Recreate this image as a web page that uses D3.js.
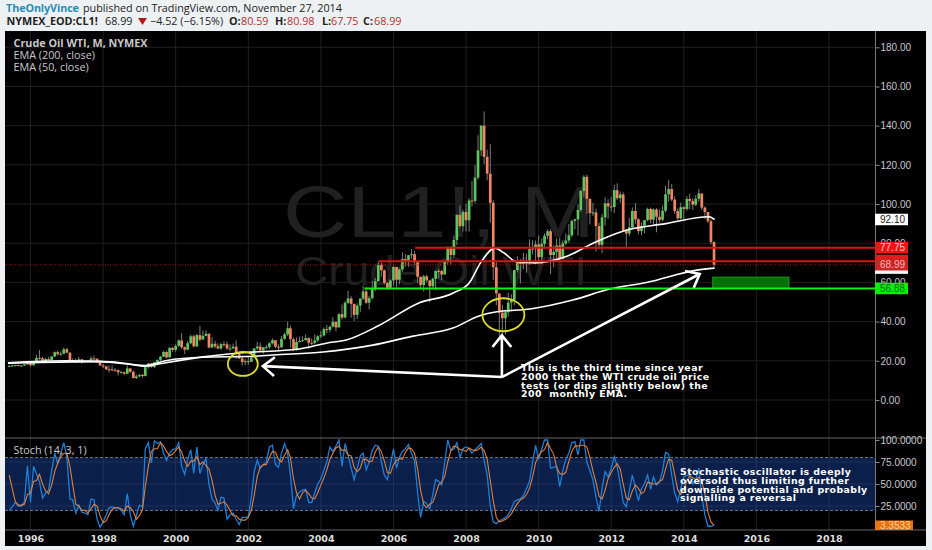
<!DOCTYPE html>
<html lang="en">
<head>
<meta charset="utf-8">
<title>Crude Oil WTI</title>
<script src="https://d3js.org/d3.v7.min.js"></script>
<style>
  html, body { margin: 0; padding: 0; background: #eef1f3; overflow: hidden; }
  svg { display: block; }
  text { font-family: "Open Sans", "DejaVu Sans", sans-serif; white-space: pre; }
</style>
</head>
<body>
<script>
// monthly bars, first one is June 1995
var firstBar = [1995, 5];
var barOpen = [
  17.2,17.3,17.6,17.8,17.5,17.6,18.2,
  19.55,17.7,19.5,21.5,21.2,19.8,20.9,20.4,22.2,24.4,23.4,23.6,
  25.9,24.15,20.3,20.4,19.75,20.8,19.8,20.1,19.6,21.2,21.1,19.2,
  17.6,17.2,15.7,15.6,15.4,15.2,14.2,14.2,13.4,16.1,14.4,11.2,
  12.05,12.75,12.3,16.75,18.66,16.84,19.3,20.5,22.1,24.5,21.75,26.6,
  25.6,27.6,30.4,26.9,25.7,29.0,32.5,27.4,33.1,30.8,32.7,33.8,
  26.8,28.7,27.4,26.3,28.5,28.4,26.3,26.3,27.2,23.4,21.2,19.4,
  19.8,19.5,21.7,26.3,27.3,25.3,26.9,27.0,28.9,30.5,27.2,26.9,
  31.2,33.5,36.6,31.0,25.8,29.6,30.2,30.5,31.6,29.2,29.1,30.4,
  32.5,33.0,36.2,35.8,37.4,39.9,37.05,43.8,42.1,49.6,51.8,49.1,
  43.45,48.2,51.75,55.4,49.7,51.97,56.5,60.6,68.9,66.2,59.8,57.3,
  61.0,67.9,61.4,66.6,71.9,71.3,73.9,74.4,70.3,62.9,58.7,63.1,
  61.05,58.1,61.8,65.9,65.8,64.0,70.7,78.2,74.0,81.7,94.5,88.7,
  96.0,91.75,101.8,101.6,113.5,127.4,140.0,124.1,115.5,100.6,67.8,54.4,
  44.6,41.7,44.8,49.7,51.1,66.3,69.9,69.45,69.96,70.6,77.0,77.3,
  79.4,72.9,79.7,83.8,86.15,73.97,75.6,78.85,71.9,79.97,81.4,84.1,
  91.4,92.2,97.0,106.7,113.9,102.7,95.4,95.7,88.8,79.2,93.2,100.4,
  98.8,98.5,107.1,103.0,104.9,86.5,84.96,88.1,96.5,92.2,86.2,88.9,
  91.8,97.5,92.05,97.2,93.5,91.97,96.56,105.0,107.65,102.3,96.4,92.7,
  98.4,97.5,102.6,101.6,99.7,102.7,105.4,98.2,95.96,91.2,80.59
];
var barHigh = [
  18.0,18.0,18.0,18.0,17.9,18.4,19.7,
  19.9,19.9,23.0,25.5,22.0,21.5,22.0,22.5,24.8,25.3,24.9,26.7,
  26.6,24.4,21.2,21.2,22.0,21.0,20.5,20.4,22.3,22.8,21.2,19.2,
  18.4,17.3,17.6,17.7,16.3,15.7,14.9,14.5,17.6,16.2,14.9,13.0,
  13.2,13.2,17.0,18.9,18.8,19.3,20.6,22.4,25.2,24.9,26.9,27.0,
  28.4,30.9,34.1,27.4,30.0,33.4,33.4,33.7,37.8,35.5,35.5,34.0,
  32.0,30.2,29.0,29.2,30.0,29.9,28.4,28.8,30.4,23.8,22.8,21.0,
  22.0,22.0,26.6,29.7,29.4,27.0,28.2,29.5,31.4,30.2,28.5,32.7,
  34.5,39.99,38.0,31.9,31.9,32.4,32.5,33.5,32.0,31.5,33.5,33.0,
  35.2,37.0,38.3,38.0,42.3,40.0,44.3,48.7,50.5,55.7,53.0,46.2,
  49.3,52.0,58.3,57.7,53.2,60.9,62.3,70.8,70.0,66.6,60.0,61.6,
  68.4,68.0,67.2,75.4,74.5,74.0,77.0,76.0,70.0,62.9,64.0,64.0,
  61.0,62.5,66.0,66.9,66.5,70.7,78.3,76.0,83.9,94.7,99.3,97.0,
  100.1,103.0,111.8,119.9,135.1,140.4,147.3,127.8,130.5,102.0,71.0,50.5,
  48.6,45.9,54.7,54.0,66.4,73.4,72.0,75.0,74.7,82.0,81.5,81.4,
  84.0,82.5,85.0,87.1,87.2,79.0,82.6,82.9,81.5,85.0,89.8,92.0,
  92.6,99.8,107.0,114.8,115.0,102.0,100.6,97.6,90.5,95.0,103.4,102.4,
  103.7,109.9,110.6,106.5,106.0,86.8,92.9,98.3,100.4,92.8,90.6,91.9,
  98.2,98.2,97.8,97.9,97.3,99.2,109.3,112.2,110.2,104.0,97.8,100.8,
  98.9,104.0,105.2,103.0,104.5,107.7,105.0,98.8,95.9,92.2,80.98
];
var barLow = [
  16.9,17.0,17.2,17.2,17.0,17.4,18.0,
  17.0,17.5,18.8,20.5,19.5,19.8,20.2,20.4,22.0,22.6,22.5,23.4,
  23.8,19.8,19.5,18.8,19.6,18.5,19.0,19.4,19.2,20.6,19.0,17.6,
  16.3,15.2,14.0,14.8,14.4,12.5,13.6,12.9,13.3,13.9,11.0,10.7,
  11.8,11.5,12.0,15.9,16.4,16.3,18.9,19.9,21.9,21.3,21.6,24.5,
  24.6,27.0,26.0,23.5,25.4,28.4,26.8,27.1,29.9,31.0,32.6,26.3,
  26.5,26.3,25.9,25.6,27.2,25.5,24.9,26.3,21.0,21.0,17.5,17.8,
  17.9,19.7,21.5,25.5,24.8,23.5,25.9,26.1,28.3,26.4,25.0,26.6,
  30.8,32.6,26.8,24.9,25.1,29.5,29.7,30.5,26.0,28.0,28.4,29.5,
  31.5,32.4,34.0,34.5,37.0,35.0,37.0,41.0,41.7,48.9,42.0,40.3,
  41.3,44.8,51.0,49.0,46.2,51.2,55.5,60.5,62.9,58.9,56.3,56.7,
  58.3,57.5,59.0,65.3,68.2,68.0,72.0,69.0,59.5,56.5,55.4,60.0,
  49.9,57.0,56.0,62.0,61.2,64.2,69.0,69.0,72.7,79.0,87.0,86.0,
  86.1,86.0,98.7,100.3,112.5,124.5,120.4,112.1,90.5,61.3,48.3,32.4,
  32.7,33.5,42.7,45.2,48.2,65.0,59.5,66.9,65.0,69.0,74.2,69.5,
  70.8,69.5,78.2,82.0,64.2,67.7,71.0,70.8,72.6,79.0,80.2,83.0,
  87.1,83.9,96.0,103.4,95.0,89.6,94.0,75.7,77.0,74.9,89.1,92.5,
  96.2,95.4,102.0,100.7,86.0,77.3,83.6,87.3,89.9,84.5,84.1,85.0,
  91.2,90.2,89.0,85.6,90.6,91.1,95.7,101.2,101.4,95.0,91.8,92.0,
  91.2,96.6,97.4,96.9,99.0,101.3,97.0,92.5,90.4,79.4,67.75
];
var barClose = [
  17.3,17.6,17.8,17.5,17.6,18.2,19.55,
  17.7,19.5,21.5,21.2,19.8,20.9,20.4,22.2,24.4,23.4,23.6,25.9,
  24.15,20.3,20.4,19.75,20.8,19.8,20.1,19.6,21.2,21.1,19.2,17.6,
  17.2,15.7,15.6,15.4,15.2,14.2,14.2,13.4,16.1,14.4,11.2,12.05,
  12.75,12.3,16.75,18.66,16.84,19.3,20.5,22.1,24.5,21.75,26.6,25.6,
  27.6,30.4,26.9,25.7,29.0,32.5,27.4,33.1,30.8,32.7,33.8,26.8,
  28.7,27.4,26.3,28.5,28.4,26.3,26.3,27.2,23.4,21.2,19.4,19.8,
  19.5,21.7,26.3,27.3,25.3,26.9,27.0,28.9,30.5,27.2,26.9,31.2,
  33.5,36.6,31.0,25.8,29.6,30.2,30.5,31.6,29.2,29.1,30.4,32.5,
  33.0,36.2,35.8,37.4,39.9,37.05,43.8,42.1,49.6,51.8,49.1,43.45,
  48.2,51.75,55.4,49.7,51.97,56.5,60.6,68.9,66.2,59.8,57.3,61.0,
  67.9,61.4,66.6,71.9,71.3,73.9,74.4,70.3,62.9,58.7,63.1,61.05,
  58.1,61.8,65.9,65.8,64.0,70.7,78.2,74.0,81.7,94.5,88.7,96.0,
  91.75,101.8,101.6,113.5,127.4,140.0,124.1,115.5,100.6,67.8,54.4,44.6,
  41.7,44.8,49.7,51.1,66.3,69.9,69.45,69.96,70.6,77.0,77.3,79.4,
  72.9,79.7,83.8,86.15,73.97,75.6,78.85,71.9,79.97,81.4,84.1,91.4,
  92.2,97.0,106.7,113.9,102.7,95.4,95.7,88.8,79.2,93.2,100.4,98.8,
  98.5,107.1,103.0,104.9,86.5,84.96,88.1,96.5,92.2,86.2,88.9,91.8,
  97.5,92.05,97.2,93.5,91.97,96.56,105.0,107.65,102.3,96.4,92.7,98.4,
  97.5,102.6,101.6,99.7,102.7,105.4,98.2,95.96,91.2,80.59,68.99
];

var ema200 = [[1995.38,18.8],[1996.26,19.2],[1997.9,19.6],[1999.15,17.6],[1999.76,20.2],[2000.75,21.8],
  [2002.13,22.3],[2002.68,23],[2004.06,24.5],[2005.43,28],[2006.54,32.6],[2007.64,36.7],[2008.38,43],
  [2008.85,45],[2009.76,46.4],[2010.94,51],[2011.96,56.6],[2012.98,60],[2014.36,66.3],[2014.85,67.3]];
var ema50 = [[1995.38,19],[1997,20],[1997.9,19.7],[1998.7,18.5],[1999.15,17.2],[1999.5,18.3],[2000.75,22],
  [2001.75,24],[2003.4,26],[2004.15,29],[2004.7,30.6],[2005.6,38],[2006.7,49.5],[2007.65,54.6],[2008.1,60],
  [2008.4,70],[2008.8,77.5],[2009.05,75],[2009.4,70.4],[2009.9,70],[2010.8,73.5],[2011.5,80],[2012.3,86],
  [2013.5,90],[2014.7,93.5],[2014.85,92]];

// stochastic, same months as the bars
var stochK = [
  20,24,29,25,25,30,71,
  29,70,62,52,34,40,43,65,85,73,85,97,
  81,33,32,17,26,18,17,15,33,32,10,1,
  7,15,23,24,23,23,20,15,39,15,2,14,
  26,24,90,97,74,99,96,98,85,77,85,89,
  90,97,70,61,78,89,62,92,62,72,79,50,
  33,28,20,35,34,10,15,17,10,4,12,12,
  13,35,64,77,68,72,75,92,94,72,69,85,
  96,85,60,22,37,41,43,44,29,29,40,50,
  56,66,75,92,87,93,100,70,96,83,68,55,
  68,82,85,66,75,88,94,93,75,60,55,72,
  90,68,80,87,90,95,85,76,40,12,30,28,
  22,38,55,53,49,75,100,88,90,97,80,90,
  92,90,85,89,92,96,77,60,25,7,5,8,
  10,12,15,22,30,32,33,37,45,53,75,94,
  78,90,100,100,68,69,70,47,65,78,85,97,
  98,83,100,100,75,65,55,35,19,45,64,58,
  68,81,70,50,29,24,42,60,45,31,45,50,
  60,44,58,49,52,65,86,84,60,40,30,45,
  58,60,60,50,55,68,36,15,2,2,3.35
];
var stochD = [
  60,45,30,26,26,27,38,
  40,53,54,61,50,42,39,49,64,74,81,85,
  85,70,49,27,25,20,20,17,22,27,25,14,
  6,8,15,21,23,23,22,19,25,23,19,10,
  14,21,47,70,87,90,90,97,93,87,82,84,
  88,92,86,76,70,76,76,81,72,75,71,67,
  54,37,27,28,30,26,20,14,14,10,9,9,
  12,20,37,59,69,72,72,80,87,86,78,75,
  83,89,80,56,40,33,40,43,39,34,33,40,
  49,57,66,78,85,91,93,88,89,83,82,69,
  64,68,78,78,75,76,86,92,87,76,63,62,
  72,77,79,78,86,91,90,85,67,43,27,23,
  27,29,38,49,52,59,75,88,93,92,89,89,
  87,91,89,88,89,92,88,78,54,31,12,7,
  8,10,12,16,22,28,32,34,38,45,58,74,
  82,87,89,97,90,84,69,62,61,63,76,87,
  93,93,94,94,92,80,65,52,36,33,43,56,
  63,69,73,67,50,34,32,42,49,45,39,42,
  52,51,50,50,53,55,67,78,77,61,43,38,
  44,54,59,57,55,58,53,39,18,7,3.35
];

// axes
var priceTicks = [0,20,40,60,80,100,120,140,160,180];
var stochTicks = [25,50,75,100];
var stochBand = [20,80];
var yearTicks = [1996,1998,2000,2002,2004,2006,2008,2010,2012,2014,2016,2018];

// drawn levels on the chart: price, first year
var redLevels = [[77.75,2006.6],[70.8,2005.6]];
var greenLevel = [56.88,2005.2];
var lastClose = 68.99;
var greenBox = [[2014.8,62.7],[2016.9,56.88]];

// hand drawn circles [year, price, rx, ry] and arrows [year, price]
var circles = [[2001.85,18.4,15,12],[2009.03,43.5,21,16.5]];
var arrowFoot = [2008.99,11.7];
var arrowTips = [[2002.4,17.3],[2008.99,33],[2014.44,64.3]];

// price tags on the axis: value, text, fill, text colour
var tagRows = [
  [92.10,"92.10","#ffffff","#222222"],
  [77.75,"77.75","#f01414","#ffc9c9"],
  [67.3,"","#ffffff","#222222"],
  [71.2,"","#e01c1c","#ffc9c9"],
  [68.99,"68.99","#c82626","#ffb0b0"],
  [56.88,"56.88","#00f000","#0a6a0a"]
];

var noteMain = ["This is the third time since year","2000 that the WTI crude oil price","tests (or dips slightly below) the","200  monthly EMA."];
var noteStoch = ["Stochastic oscillator is deeply","oversold thus limiting further","downside potential and probably","signalling a reversal"];

var w = 932, h = 550;
var plotL = 5, plotR = 875, plotEdge = 926, plotT = 31, plotSplit = 438, plotB = 530, plotFoot = 546;

var svg = d3.select("body").append("svg").attr("width", w).attr("height", h);

function yearDate(v) {
  var yr = Math.floor(v);
  return new Date(yr, 0, 1 + (v - yr) * 365);
}

var x = d3.scaleTime().domain([new Date(1996,0,1), new Date(2018,0,1)]).range([30.5, 829]);
var y = d3.scaleLinear().domain([0,180]).range([400, 47.3]);
var ys = d3.scaleLinear().domain([0,100]).range([528, 440]);

var bars = barClose.map(function(c, i) {
  return {date: new Date(firstBar[0], firstBar[1] + i, 1), o: barOpen[i], h: barHigh[i], l: barLow[i], c: c};
});

// header
var head = svg.append("g").style("font-size", "10.8px").attr("fill", "#222");
head.append("text").attr("x", 6).attr("y", 12).attr("fill", "#2a8db5").attr("font-weight", 700)
  .attr("textLength", 73).text("TheOnlyVince");
head.append("text").attr("x", 83).attr("y", 12).text("published on TradingView.com, November 27, 2014");
var row2 = [
  [6.5,"NYMEX_EOD:CL1!","#222",700],[105,"68.99","#222",400],[150,"\u22124.52 (\u22126.15%)","#222",400],
  [229,"O:","#222",700],[241,"80.59","#b5302f",400],[275,"H:","#222",700],[287,"80.98","#b5302f",400],
  [322,"L:","#222",700],[331,"67.75","#b5302f",400],[363,"C:","#222",700],[374,"68.99","#b5302f",400]
];
head.selectAll(".r2").data(row2).enter().append("text").attr("class","r2")
  .attr("x", function(d) { return d[0]; }).attr("y", 25)
  .attr("fill", function(d) { return d[2]; }).attr("font-weight", function(d) { return d[3]; })
  .text(function(d) { return d[1]; });
head.append("path").attr("d", "M138,18 L147,18 L142.5,25 Z").attr("fill", "#b01818");

// black chart area
svg.append("rect").attr("x", plotL).attr("y", plotT).attr("width", plotEdge-plotL).attr("height", plotFoot-plotT).attr("fill", "#000");

// watermark
svg.append("text").attr("x", 283).attr("y", 237).attr("font-size", 73).attr("textLength", 312)
  .attr("lengthAdjust", "spacingAndGlyphs").style("font-family", "Liberation Sans").attr("fill", "#202020").text("CL1!, M");
svg.append("text").attr("x", 295).attr("y", 285).attr("font-size", 40).attr("textLength", 292)
  .attr("lengthAdjust", "spacingAndGlyphs").style("font-family", "Liberation Sans").attr("fill", "#202020").text("Crude Oil WTI");

// grid
var gridColor = "#1f1f1f";
svg.append("g").selectAll("line").data(yearTicks).enter().append("line")
  .attr("x1", function(d) { return x(new Date(d,0,1)); }).attr("x2", function(d) { return x(new Date(d,0,1)); })
  .attr("y1", plotT).attr("y2", plotB).attr("stroke", gridColor);
svg.append("g").selectAll("line").data(priceTicks).enter().append("line")
  .attr("x1", plotL).attr("x2", plotR).attr("y1", function(d) { return y(d); }).attr("y2", function(d) { return y(d); })
  .attr("stroke", gridColor);

// stochastic band
svg.append("rect").attr("x", plotL).attr("width", plotR-plotL)
  .attr("y", ys(stochBand[1])).attr("height", ys(stochBand[0])-ys(stochBand[1])).attr("fill", "#0a1f4a");
svg.append("g").selectAll("line").data(stochTicks.slice(0,3)).enter().append("line")
  .attr("x1", plotL).attr("x2", plotR).attr("y1", function(d) { return ys(d); }).attr("y2", function(d) { return ys(d); })
  .attr("stroke", "#22335a");
svg.append("g").selectAll("line").data(yearTicks).enter().append("line")
  .attr("x1", function(d) { return x(new Date(d,0,1)); }).attr("x2", function(d) { return x(new Date(d,0,1)); })
  .attr("y1", ys(stochBand[1])).attr("y2", ys(stochBand[0])).attr("stroke", "#22335a");
svg.append("g").selectAll("line").data(stochBand).enter().append("line")
  .attr("x1", plotL).attr("x2", plotR).attr("y1", function(d) { return ys(d); }).attr("y2", function(d) { return ys(d); })
  .attr("stroke", "#777").attr("stroke-dasharray", "3,2");

// candles
var candle = svg.append("g").selectAll("g").data(bars).enter().append("g");
candle.append("line")
  .attr("x1", function(d) { return x(d.date); }).attr("x2", function(d) { return x(d.date); })
  .attr("y1", function(d) { return y(d.h); }).attr("y2", function(d) { return y(d.l); })
  .attr("stroke", "#8a8a8a").attr("stroke-width", 0.9);
candle.append("rect")
  .attr("x", function(d) { return x(d.date) - 1.35; }).attr("width", 2.7)
  .attr("y", function(d) { return y(Math.max(d.o, d.c)); })
  .attr("height", function(d) { return Math.max(1, Math.abs(y(d.o) - y(d.c))); })
  .attr("fill", function(d) { return d.c >= d.o ? "#5fc65f" : "#f28662"; });

// EMAs
var emaLine = d3.line().curve(d3.curveMonotoneX)
  .x(function(d) { return x(yearDate(d[0])); }).y(function(d) { return y(d[1]); });
svg.append("path").attr("d", emaLine(ema200)).attr("fill", "none").attr("stroke", "#fff").attr("stroke-width", 1.6);
svg.append("path").attr("d", emaLine(ema50)).attr("fill", "none").attr("stroke", "#fff").attr("stroke-width", 1.6);

// levels
svg.append("g").selectAll("line").data(redLevels).enter().append("line")
  .attr("x1", function(d) { return x(yearDate(d[1])); }).attr("x2", plotR)
  .attr("y1", function(d) { return y(d[0]); }).attr("y2", function(d) { return y(d[0]); })
  .attr("stroke", "#e01010").attr("stroke-width", 2);
svg.append("line").attr("x1", plotL).attr("x2", plotR).attr("y1", y(lastClose)).attr("y2", y(lastClose))
  .attr("stroke", "#a81515").attr("stroke-dasharray", "1,1.5");
svg.append("rect").attr("x", x(yearDate(greenBox[0][0]))).attr("y", y(greenBox[0][1]))
  .attr("width", x(yearDate(greenBox[1][0])) - x(yearDate(greenBox[0][0])))
  .attr("height", y(greenBox[1][1]) - y(greenBox[0][1]))
  .attr("fill", "#086f08").attr("stroke", "#10a010");
svg.append("line").attr("x1", x(yearDate(greenLevel[1]))).attr("x2", plotR)
  .attr("y1", y(greenLevel[0])).attr("y2", y(greenLevel[0])).attr("stroke", "#12ee12").attr("stroke-width", 2);

// hand drawn circles and arrows
svg.append("g").selectAll("ellipse").data(circles).enter().append("ellipse")
  .attr("cx", function(d) { return x(yearDate(d[0])); }).attr("cy", function(d) { return y(d[1]); })
  .attr("rx", function(d) { return d[2]; }).attr("ry", function(d) { return d[3]; })
  .attr("fill", "none").attr("stroke", "#dcdc28").attr("stroke-width", 1.8);

var fx = x(yearDate(arrowFoot[0])), fy = y(arrowFoot[1]);
arrowTips.forEach(function(t) {
  var tx = x(yearDate(t[0])), ty = y(t[1]);
  var a = Math.atan2(fy - ty, fx - tx), len = 15, spread = 0.68;
  svg.append("path")
    .attr("d", "M" + fx + "," + fy + "L" + tx + "," + ty +
      "M" + (tx + len*Math.cos(a-spread)) + "," + (ty + len*Math.sin(a-spread)) +
      "L" + tx + "," + ty +
      "L" + (tx + len*Math.cos(a+spread)) + "," + (ty + len*Math.sin(a+spread)))
    .attr("fill", "none").attr("stroke", "#fff").attr("stroke-width", 2.6);
});

// stochastic lines
var stochLine = d3.line().x(function(d) { return x(d.date); }).y(function(d) { return ys(d.v); });
svg.append("path").attr("fill", "none").attr("stroke", "#1e7fd6").attr("stroke-width", 1.3)
  .attr("d", stochLine(bars.map(function(b, i) { return {date: b.date, v: stochK[i]}; })));
svg.append("path").attr("fill", "none").attr("stroke", "#e0803a").attr("stroke-width", 1.1)
  .attr("d", stochLine(bars.map(function(b, i) { return {date: b.date, v: stochD[i]}; })));

// pane borders
svg.append("line").attr("x1", plotL).attr("x2", plotEdge).attr("y1", plotSplit).attr("y2", plotSplit).attr("stroke", "#666");
svg.append("line").attr("x1", plotL).attr("x2", plotEdge).attr("y1", plotB).attr("y2", plotB).attr("stroke", "#666");
svg.append("line").attr("x1", plotR+0.5).attr("x2", plotR+0.5).attr("y1", plotT).attr("y2", plotB).attr("stroke", "#777");

// right axes
var axisPrice = d3.axisRight(y).tickValues(priceTicks).tickSize(4).tickFormat(d3.format(".2f"));
var gp = svg.append("g").attr("transform", "translate(" + (plotR+0.5) + ",0)").call(axisPrice);
var axisStoch = d3.axisRight(ys).tickValues(stochTicks).tickSize(4).tickFormat(d3.format(".4f"));
var gs = svg.append("g").attr("transform", "translate(" + (plotR+0.5) + ",0)").call(axisStoch);
[gp, gs].forEach(function(g) {
  g.select(".domain").remove();
  g.selectAll("line").attr("stroke", "#888");
  g.selectAll("text").attr("fill", "#c8c8c8").attr("x", 5).style("font-size", "10px").style("font-family", "Liberation Sans");
});

// time axis
var axisTime = d3.axisBottom(x).tickValues(yearTicks.map(function(d) { return new Date(d,0,1); }))
  .tickSize(0).tickFormat(d3.timeFormat("%Y"));
var gt = svg.append("g").attr("transform", "translate(0," + plotB + ")").call(axisTime);
gt.select(".domain").remove();
gt.selectAll("text").attr("fill", "#ddd").attr("y", 5).style("font-size", "9.5px").style("font-weight", 700).style("font-family", "DejaVu Sans");

// price tags
var tags = svg.append("g").selectAll("g").data(tagRows).enter().append("g");
tags.append("rect").attr("x", plotR).attr("width", 33).attr("height", 11.5)
  .attr("y", function(d) { return y(d[0]) - 5.8; }).attr("fill", function(d) { return d[2]; });
tags.append("text").attr("x", plotR+5).attr("y", function(d) { return y(d[0]) + 3.6; })
  .attr("fill", function(d) { return d[3]; }).style("font-size", "10px").style("font-family", "Liberation Sans")
  .text(function(d) { return d[1]; });
svg.append("rect").attr("x", plotR).attr("y", 520.5).attr("width", 38).attr("height", 9.5).attr("fill", "#e8720c");
svg.append("text").attr("x", plotR+5).attr("y", 529).attr("fill", "#ffd0a0").style("font-size", "10px")
  .style("font-family", "Liberation Sans").text("3.3533");

// legend
var legend = svg.append("g").attr("fill", "#c8c8c8").style("font-size", "10.8px");
legend.append("text").attr("x", 13.5).attr("y", 47).attr("font-weight", 700).text("Crude Oil WTI, M, NYMEX");
legend.append("text").attr("x", 13.5).attr("y", 59).text("EMA (200, close)");
legend.append("text").attr("x", 13.5).attr("y", 71).text("EMA (50, close)");
legend.append("text").attr("x", 13.5).attr("y", 454).text("Stoch (14, 3, 1)");

// notes
function note(lines, px, py) {
  svg.append("g").selectAll("text").data(lines).enter().append("text")
    .attr("x", px).attr("y", function(d, i) { return py + i * 8.8; })
    .attr("fill", "#fff").attr("font-weight", 700).attr("letter-spacing", "0.42px")
    .style("font-size", "9.4px").style("font-family", "DejaVu Sans").text(function(d) { return d; });
}
note(noteMain, 521, 371);
note(noteStoch, 680, 475);
</script>
</body>
</html>
